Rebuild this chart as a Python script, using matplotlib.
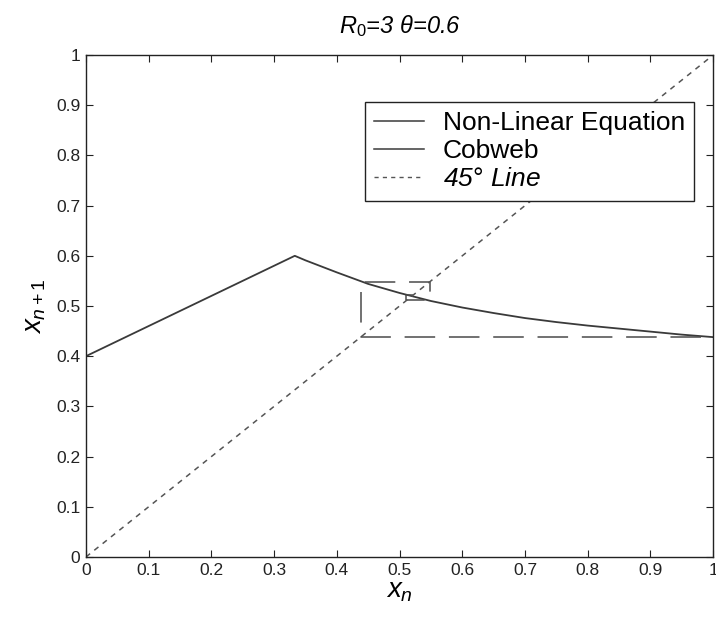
import matplotlib
matplotlib.use('Agg')
import matplotlib.pyplot as plt
from matplotlib.lines import Line2D
import numpy as np

plt.rcParams['font.family'] = ['Liberation Sans', 'DejaVu Sans']
plt.rcParams['mathtext.fontset'] = 'custom'
plt.rcParams['mathtext.rm'] = 'Liberation Sans'
plt.rcParams['mathtext.it'] = 'Liberation Sans:italic'
plt.rcParams['mathtext.default'] = 'it'

# map x_n -> x_{n+1} (R0=3, theta=0.6)
xn = [0.0, 0.333, 0.35, 0.4, 0.45, 0.5, 0.55, 0.6, 0.65, 0.7, 0.75, 0.8, 0.85, 0.9, 0.95, 1.0]
xn1 = [0.4, 0.600, 0.591, 0.567, 0.544, 0.526, 0.510, 0.497, 0.486, 0.476, 0.468, 0.461, 0.455, 0.449, 0.443, 0.438]

# successive iterates of the cobweb, starting from x0 = 0.98
iterates = [0.98, 0.438, 0.548, 0.511, 0.522, 0.516, 0.519, 0.517, 0.518]

diag = [0.0, 1.0]
ticks = [0, 0.1, 0.2, 0.3, 0.4, 0.5, 0.6, 0.7, 0.8, 0.9, 1]
tick_labels = ['0', '0.1', '0.2', '0.3', '0.4', '0.5', '0.6', '0.7', '0.8', '0.9', '1']

# staircase path: (x_k, x_{k+1}) -> (x_{k+1}, x_{k+1}) -> (x_{k+1}, x_{k+2}) ...
cw_x, cw_y = [], []
for k in range(len(iterates) - 1):
    cw_x += [iterates[k], iterates[k + 1]]
    cw_y += [iterates[k + 1], iterates[k + 1]]
    if k + 2 < len(iterates):
        cw_x += [iterates[k + 1]]
        cw_y += [iterates[k + 2]]

fig = plt.figure(figsize=(7.16, 6.29), dpi=100)
ax = fig.add_axes([0.120, 0.1145, 0.876, 0.798])

ax.plot(xn, xn1, color='#3a3a3a', lw=1.3)
ax.plot(cw_x, cw_y, color='#4a4a4a', lw=1.1, linestyle=(0, (20, 9)))
ax.plot(diag, diag, color='#555555', lw=1.1, linestyle=(0, (3.5, 3.5)))

ax.set_xlim(0, 1)
ax.set_ylim(0, 1)
ax.set_xticks(ticks)
ax.set_xticklabels(tick_labels)
ax.set_yticks(ticks)
ax.set_yticklabels(tick_labels)
ax.tick_params(direction='in', length=5, width=0.8, top=True, right=True,
               labelsize=12.5, pad=4, colors='#222222')
for s in ax.spines.values():
    s.set_linewidth(1.0)
    s.set_color('#222222')

ax.set_title(r'$R_{\mathit{0}}$=3 $\theta$=0.6', fontsize=17, style='italic', pad=16)
ax.set_xlabel(r'$x_n$', fontsize=20, labelpad=0)
ax.set_ylabel(r'$x_{n+1}$', fontsize=20, labelpad=6)

handles = [
    Line2D([], [], color='#3a3a3a', lw=1.1),
    Line2D([], [], color='#3a3a3a', lw=1.1),
    Line2D([], [], color='#555555', lw=1.0, linestyle=(0, (3, 3))),
]
leg = ax.legend(handles, ['Non-Linear Equation', 'Cobweb', r'45$\degree$ Line'],
                loc='upper right', bbox_to_anchor=(0.970, 0.906), borderaxespad=0,
                fontsize=19, frameon=True, fancybox=False, edgecolor='#222222',
                framealpha=1, handlelength=1.9, handletextpad=0.7,
                labelspacing=0.15, borderpad=0.35)
leg.get_frame().set_linewidth(1.0)
leg.get_texts()[2].set_style('italic')

fig.savefig('out.png', dpi=100)
